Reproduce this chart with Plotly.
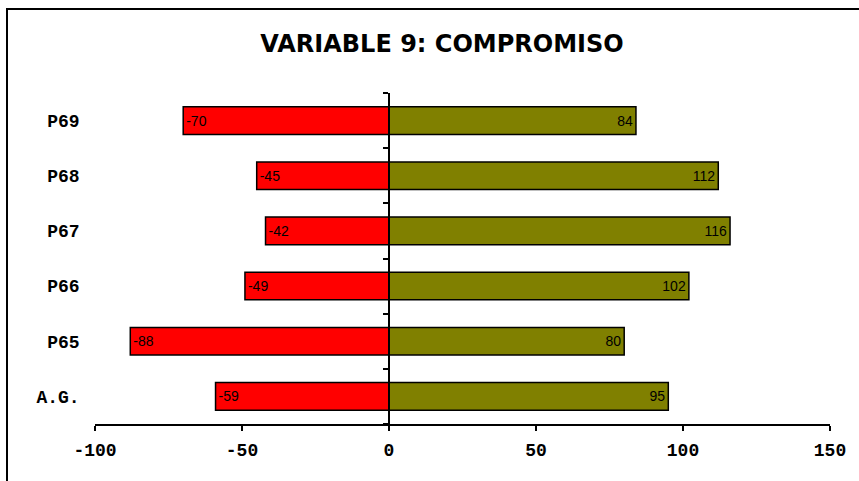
import plotly.graph_objects as go

# Survey items (bottom to top) and their negative / positive scores
categories = ["A.G.", "P65", "P66", "P67", "P68", "P69"]
negative = [-59, -88, -49, -42, -45, -70]
positive = [95, 80, 102, 116, 112, 84]
x_ticks = [-100, -50, 0, 50, 100, 150]

positions = list(range(len(categories)))
boundaries = [p - 0.5 for p in positions] + [positions[-1] + 0.5]

bar_text = dict(family="Liberation Sans, Arial, sans-serif", size=14, color="black")

fig = go.Figure()
fig.add_trace(go.Bar(
    y=positions, x=negative, orientation="h", width=0.5,
    marker=dict(color="#FF0000", line=dict(color="black", width=1.5)),
    text=[str(v) for v in negative], textposition="inside", insidetextanchor="end",
    textfont=bar_text, textangle=0, constraintext="none", cliponaxis=False,
    hoverinfo="skip", showlegend=False,
))
fig.add_trace(go.Bar(
    y=positions, x=positive, orientation="h", width=0.5,
    marker=dict(color="#808000", line=dict(color="black", width=1.5)),
    text=[str(v) for v in positive], textposition="inside", insidetextanchor="end",
    textfont=bar_text, textangle=0, constraintext="none", cliponaxis=False,
    hoverinfo="skip", showlegend=False,
))

mono = dict(family="Liberation Mono, Courier New, monospace", size=18,
            color="black", weight="bold")

# x = 0 sits at 40% of the [-100, 150] range: the value axis is drawn there
zero_pos = (0 - x_ticks[0]) / (x_ticks[-1] - x_ticks[0])

fig.update_layout(
    width=859, height=481,
    margin=dict(l=95, r=29, t=93, b=57),
    paper_bgcolor="white", plot_bgcolor="white",
    barmode="relative",
    title=dict(
        text="<b>VARIABLE 9: COMPROMISO</b>",
        font=dict(family="DejaVu Sans, sans-serif", size=24, color="black"),
        x=442 / 859, xanchor="center", xref="container",
        y=1 - 44 / 481, yanchor="middle", yref="container",
    ),
    xaxis=dict(
        range=[x_ticks[0], x_ticks[-1]], tickvals=x_ticks,
        ticktext=[str(t) for t in x_ticks],
        ticks="outside", ticklen=5, tickwidth=1.5, tickcolor="black",
        showline=True, linecolor="black", linewidth=1.5,
        showgrid=False, zeroline=False, tickfont=mono,
        ticklabelstandoff=4,
    ),
    yaxis=dict(
        range=[boundaries[0], boundaries[-1]],
        tickvals=positions, ticktext=categories,
        ticks="", showgrid=False, zeroline=False,
        anchor="free", position=zero_pos,
        showline=True, linecolor="black", linewidth=1.5,
        minor=dict(tickvals=boundaries, ticks="outside", ticklen=5,
                   tickwidth=1.5, tickcolor="black", showgrid=False),
        tickfont=mono, ticklabelstandoff=305,
    ),
    shapes=[dict(
        type="rect", xref="paper", yref="paper",
        x0=(7 - 95) / 735, x1=1.3, y0=-0.5, y1=1 + (93 - 9) / 331,
        line=dict(color="black", width=2), fillcolor="rgba(0,0,0,0)",
        layer="below",
    )],
)

fig.write_html("out.html")
